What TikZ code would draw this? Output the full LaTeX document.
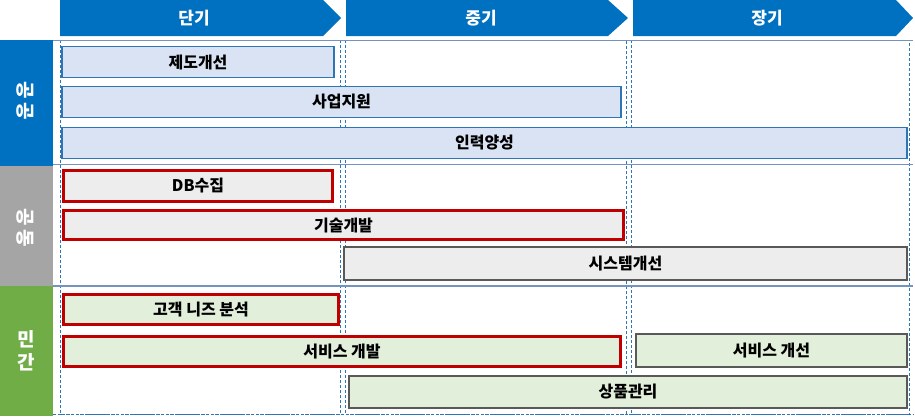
\documentclass[tikz,border=0pt]{standalone}
\usepackage{fontspec}
\setmainfont{Noto Sans CJK KR}
\definecolor{hdrblue}{HTML}{0070C0}
\definecolor{pubfill}{HTML}{DAE3F3}
\definecolor{publine}{HTML}{2E75B6}
\definecolor{cofill}{HTML}{EDEDED}
\definecolor{redline}{HTML}{C00000}
\definecolor{grayline}{HTML}{595959}
\definecolor{prvfill}{HTML}{E2EFDA}
\definecolor{labgray}{HTML}{A5A5A5}
\definecolor{labgreen}{HTML}{70AD47}
\definecolor{rowline}{HTML}{7393C0}
\tikzset{
  box/.style={rectangle, inner sep=0pt, font=\fontsize{16}{18}\selectfont\bfseries, text=black},
  pubbox/.style={box, fill=pubfill, draw=publine, line width=1.2pt},
  redbox/.style={box, draw=redline, line width=3pt},
  graybox/.style={box, draw=grayline, line width=1.2pt},
  hdrtext/.style={text=white, font=\fontsize{17}{19}\selectfont\bfseries},
  labtext/.style={text=white, font=\fontsize{19}{23}\selectfont\bfseries, align=center},
  coldash/.style={draw=publine, dashed, line width=0.8pt, dash pattern=on 3pt off 2pt},
  rowsep/.style={draw=rowline, line width=1.4pt}
}
\begin{document}
\begin{tikzpicture}[x=1pt, y=-1pt]
\useasboundingbox (0,0) rectangle (915,416);
% headers
\fill[hdrblue] (60,0) -- (323,0) -- (341,18) -- (323,36) -- (60,36) -- cycle;
\fill[hdrblue] (346,0) -- (608,0) -- (628,18) -- (608,36) -- (346,36) -- cycle;
\fill[hdrblue] (633,0) -- (896,0) -- (913,18) -- (896,36) -- (633,36) -- cycle;
\node[hdrtext] (h1) at (194,18) {단기};
\node[hdrtext] (h2) at (481,18) {중기};
\node[hdrtext] (h3) at (767,18) {장기};
% row labels
\fill[hdrblue] (0,40) rectangle (53,166);
\fill[labgray] (0,166) rectangle (53,286);
\fill[labgreen] (0,286) rectangle (53,416);
\node[labtext, rotate=-90] (l1) at (25,101) {공\hspace{4pt}공};
\node[labtext, rotate=-90] (l2) at (25,228) {공\hspace{4pt}동};
\node[labtext] (l3) at (26,351) {민\\간};
% grid
\draw[coldash] (60,40) rectangle (340,414);
\draw[coldash] (345,40) rectangle (626,414);
\draw[coldash] (631,40) rectangle (909,414);
\draw[rowsep] (53,40.5) -- (913,40.5);
\draw[rowsep] (53,164.5) -- (913,164.5);
\draw[rowsep] (53,286) -- (913,286);
\draw[draw=publine, dashed, line width=1.6pt, dash pattern=on 3pt off 1.5pt] (53,414.5) -- (913,414.5);
% public
\node[pubbox, minimum width=272pt, minimum height=31pt] (p1) at (198,62) {제도개선};
\node[pubbox, minimum width=559pt, minimum height=31pt] (p2) at (341.5,102) {사업지원};
\node[pubbox, minimum width=845pt, minimum height=31pt] (p3) at (484.5,143) {인력양성};
% joint
\node[redbox, fill=cofill, minimum width=269pt, minimum height=31pt] (c1) at (198,186) {DB수집};
\node[redbox, fill=cofill, minimum width=560pt, minimum height=29pt] (c2) at (343.5,225) {기술개발};
\node[graybox, fill=cofill, minimum width=563pt, minimum height=33pt] (c3) at (625.5,263.5) {시스템개선};
% private
\node[redbox, fill=prvfill, minimum width=275pt, minimum height=30pt] (v1) at (201,309.5) {고객 니즈 분석};
\node[redbox, fill=prvfill, minimum width=557pt, minimum height=30pt] (v2) at (342,351.5) {서비스 개발};
\node[graybox, fill=prvfill, minimum width=271pt, minimum height=33pt] (v3) at (771.5,350.5) {서비스 개선};
\node[graybox, fill=prvfill, minimum width=558pt, minimum height=32pt] (v4) at (628,392) {상품관리};
\end{tikzpicture}
\end{document}
